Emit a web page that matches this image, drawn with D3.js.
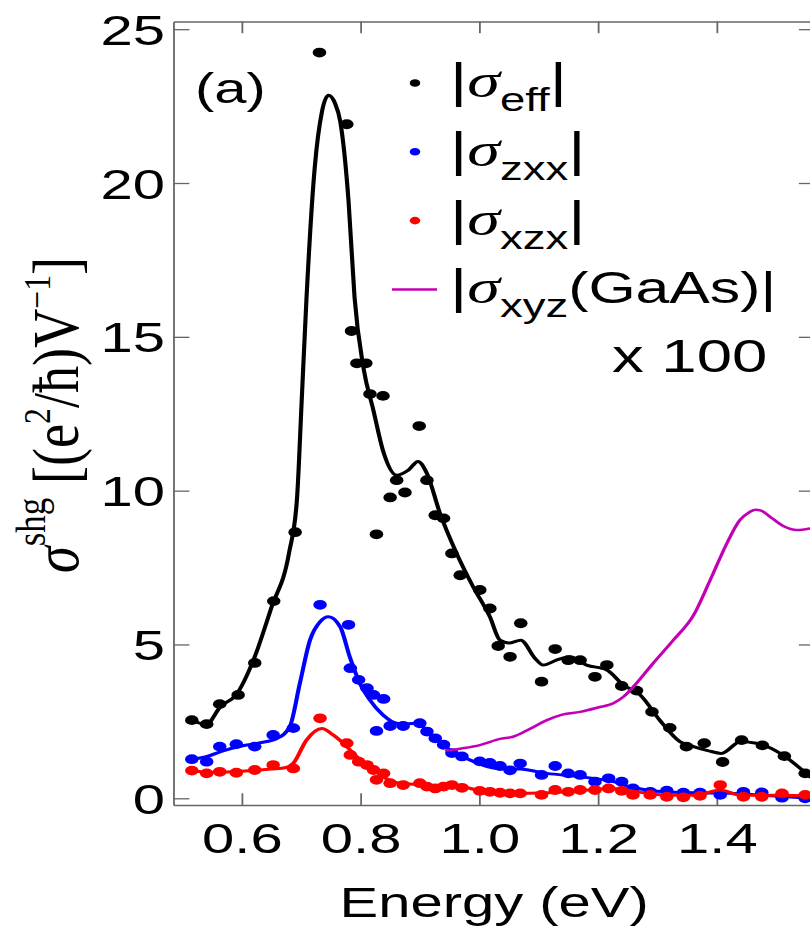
<!DOCTYPE html>
<html><head><meta charset="utf-8">
<script src="https://cdn.jsdelivr.net/npm/d3@7"></script>
<style>html,body{margin:0;padding:0;background:#fff;overflow:hidden}</style>
</head><body>
<svg id="chart"></svg>
<script>
// ---- data -------------------------------------------------------------
// measured |sigma_eff| (black dots)
const effX = [0.516,0.541,0.563,0.594,0.622,0.654,0.690,0.731,0.777,0.785,0.794,0.809,0.816,0.838,0.827,0.850,0.861,0.875,0.899,0.912,0.926,0.940,0.954,0.968,1.001,1.018,1.032,1.052,1.070,1.105,1.128,1.150,1.170,1.195,1.215,1.240,1.265,1.291,1.321,1.349,1.379,1.410,1.442,1.477,1.514,1.549];
const effY = [2.54,2.41,3.06,3.36,4.40,6.41,8.65,24.24,21.91,15.19,14.14,14.14,13.14,13.08,8.58,9.78,10.34,9.94,12.10,10.34,9.20,9.10,7.96,7.25,6.77,6.17,4.95,4.60,5.69,3.79,4.85,4.49,4.49,3.95,4.33,3.65,3.50,2.81,2.29,1.68,1.79,1.18,1.89,1.72,1.37,0.81];
// fitted |sigma_eff| (black line)
const effFitX = [0.510,0.540,0.565,0.590,0.620,0.650,0.680,0.693,0.701,0.709,0.723,0.735,0.746,0.757,0.766,0.780,0.790,0.805,0.822,0.838,0.861,0.881,0.897,0.912,0.934,0.962,0.990,1.018,1.035,1.050,1.070,1.094,1.108,1.130,1.153,1.181,1.215,1.243,1.271,1.304,1.338,1.361,1.385,1.408,1.440,1.467,1.507,1.557];
const effFitY = [2.6,2.4,3.0,3.35,4.5,6.2,8.0,9.7,12.9,16.2,20.5,22.3,22.85,22.6,22.0,19.4,16.3,14.0,12.6,11.3,10.5,10.67,10.95,10.56,9.26,7.96,6.87,5.9,5.14,5.05,5.14,4.55,4.33,4.49,4.6,4.33,4.17,3.68,3.36,2.54,1.84,1.68,1.55,1.46,1.84,1.79,1.46,0.70];

// |sigma_zxx| (blue)
const zxxX = [0.516,0.541,0.563,0.591,0.622,0.653,0.687,0.732,0.780,0.783,0.797,0.811,0.822,0.839,0.827,0.850,0.872,0.900,0.912,0.926,0.940,0.954,0.971,1.001,1.018,1.035,1.052,1.069,1.105,1.128,1.150,1.170,1.195,1.218,1.240,1.259,1.288,1.316,1.344,1.372,1.406,1.445,1.476,1.510,1.549];
const zxxY = [1.27,1.19,1.68,1.76,1.68,2.06,2.28,6.29,5.64,4.23,3.85,3.58,3.36,3.23,2.19,2.35,2.35,2.44,2.17,1.95,1.74,1.47,1.36,1.20,1.15,1.05,0.91,1.13,0.76,1.05,0.81,0.76,0.54,0.65,0.54,0.32,0.21,0.25,0.18,0.18,0.11,0.21,0.19,0.02,0.0];
const zxxFitX = [0.510,0.540,0.570,0.600,0.630,0.660,0.681,0.698,0.715,0.732,0.746,0.766,0.782,0.799,0.816,0.838,0.861,0.878,0.895,0.917,0.951,0.985,1.029,1.069,1.114,1.170,1.226,1.259,1.310,1.360,1.422,1.478,1.557];
const zxxFitY = [1.25,1.35,1.55,1.7,1.8,1.95,2.33,3.74,5.14,5.74,5.9,5.57,4.6,3.74,3.19,2.71,2.44,2.42,2.44,2.11,1.57,1.24,0.97,0.95,0.81,0.70,0.54,0.35,0.21,0.18,0.16,0.10,0.0];

// |sigma_xzx| (red)
const xzxX = [0.516,0.541,0.563,0.591,0.622,0.653,0.687,0.732,0.777,0.783,0.797,0.811,0.822,0.839,0.827,0.850,0.872,0.900,0.912,0.926,0.940,0.954,0.971,1.001,1.018,1.035,1.052,1.069,1.105,1.128,1.150,1.170,1.195,1.218,1.240,1.259,1.288,1.316,1.344,1.372,1.406,1.445,1.476,1.510,1.549];
const xzxY = [0.90,0.81,0.86,0.83,0.92,1.08,0.97,2.60,1.79,1.41,1.19,1.08,0.92,0.81,0.60,0.49,0.43,0.49,0.38,0.32,0.38,0.43,0.34,0.24,0.21,0.18,0.16,0.16,0.11,0.27,0.21,0.27,0.27,0.32,0.24,0.11,0.11,0.05,0.03,0.08,0.43,0.05,0.05,0.16,0.11];
const xzxFitX = [0.510,0.550,0.600,0.650,0.675,0.687,0.709,0.735,0.754,0.777,0.794,0.816,0.838,0.861,0.895,0.928,0.962,1.001,1.057,1.114,1.170,1.226,1.270,1.310,1.365,1.406,1.440,1.507,1.557];
const xzxFitY = [0.9,0.85,0.88,0.95,1.0,1.14,1.89,2.27,2.06,1.68,1.35,1.03,0.70,0.51,0.45,0.38,0.40,0.25,0.16,0.18,0.25,0.32,0.20,0.11,0.10,0.27,0.10,0.10,0.08];

// |sigma_xyz(GaAs)| x 100 (magenta line)
const gaasX = [0.945,0.970,1.001,1.035,1.057,1.085,1.114,1.140,1.170,1.200,1.226,1.243,1.265,1.293,1.327,1.361,1.389,1.417,1.439,1.455,1.465,1.475,1.490,1.512,1.535,1.557];
const gaasY = [1.55,1.62,1.73,1.93,2.0,2.25,2.54,2.72,2.81,2.95,3.09,3.3,3.74,4.39,5.14,5.95,7.09,8.28,9.04,9.3,9.38,9.35,9.15,8.85,8.72,8.77];

const xTicks = [0.6,0.8,1.0,1.2,1.4];
const xTickLabels = ["0.6","0.8","1.0","1.2","1.4"];
const yTicks = [0,5,10,15,20,25];
const yTickLabels = ["0","5","10","15","20","25"];

// ---- layout ------------------------------------------------------------
const W = 810, H = 930;
const SX = 1.38;              // horizontal stretch of the drawing
const VW = W / SX;
const sans = "'Liberation Sans', Arial, Helvetica, sans-serif";
const serif = "'Liberation Serif', 'Times New Roman', serif";
const axisColor = "#666";
const tick = 11.7;

const svg = d3.select('#chart')
  .attr('width', W).attr('height', H)
  .attr('viewBox', `0 0 ${VW} ${H}`)
  .attr('preserveAspectRatio', 'none');

const x = d3.scaleLinear().domain([0.4848, 1.5656]).range([173.3 / SX, 815 / SX]);
const y = d3.scaleLinear().domain([-0.218, 25.25]).range([805, 21.5]);

// ---- axes (ticks point inward on all four sides) ----------------------
function styleAxis(g) {
  g.select('.domain').attr('stroke', axisColor).attr('stroke-width', 1.3);
  g.selectAll('.tick line').attr('stroke', axisColor).attr('stroke-width', 1.3);
}
const gB = svg.append('g').attr('transform', `translate(0,${y.range()[0]})`)
  .call(d3.axisBottom(x).tickValues(xTicks).tickFormat((d, i) => xTickLabels[i]).tickSize(-tick).tickSizeOuter(0));
gB.call(styleAxis);
gB.selectAll('.tick text').attr('y', 48).attr('dy', null)
  .attr('font-family', sans).attr('font-size', 42).attr('fill', '#000');

const gT = svg.append('g').attr('transform', `translate(0,${y.range()[1]})`)
  .call(d3.axisTop(x).tickValues(xTicks).tickFormat('').tickSize(-tick).tickSizeOuter(0));
gT.call(styleAxis);

const gL = svg.append('g').attr('transform', `translate(${x.range()[0]},0)`)
  .call(d3.axisLeft(y).tickValues(yTicks).tickFormat((d, i) => yTickLabels[i]).tickSize(-tick).tickSizeOuter(0));
gL.call(styleAxis);
gL.selectAll('.tick text').attr('x', -6).attr('dy', '0.36em')
  .attr('font-family', sans).attr('font-size', 42).attr('fill', '#000');

const gR = svg.append('g').attr('transform', `translate(${x.range()[1]},0)`)
  .call(d3.axisRight(y).tickValues(yTicks).tickFormat('').tickSize(-tick).tickSizeOuter(0));
gR.call(styleAxis);

// axis titles
svg.append('text').attr('x', (x.range()[0] + x.range()[1]) / 2).attr('y', 917)
  .attr('text-anchor', 'middle').attr('font-family', sans).attr('font-size', 42)
  .text('Energy (eV)');

const yt = svg.append('text')
  .attr('transform', `translate(56.5,415) rotate(-90) scale(1.13,1)`)
  .attr('text-anchor', 'middle').attr('font-family', serif).attr('font-size', 48);
yt.append('tspan').attr('font-style', 'italic').text('σ');
yt.append('tspan').attr('font-size', 31).attr('dy', -24).text('shg');
yt.append('tspan').attr('dy', 24).text(' [(e');
yt.append('tspan').attr('font-size', 28).attr('dy', -20).text('2');
yt.append('tspan').attr('dy', 20).text('/ħ)V');
yt.append('tspan').attr('font-size', 28).attr('dy', -20).text('−1');
yt.append('tspan').attr('dy', 20).text(']');

// ---- data marks ---------------------------------------------------------
const plot = svg.append('g');
function fitLine(xs, ys, color, w) {
  const pts = xs.map((v, i) => [v, ys[i]]);
  plot.append('path').datum(pts)
    .attr('fill', 'none').attr('stroke', color).attr('stroke-width', w)
    .attr('stroke-linejoin', 'round').attr('stroke-linecap', 'round')
    .attr('d', d3.line().x(d => x(d[0])).y(d => y(d[1])).curve(d3.curveMonotoneX));
}
function dots(xs, ys, color) {
  const pts = xs.map((v, i) => [v, ys[i]]);
  plot.append('g').selectAll('circle').data(pts).join('circle')
    .attr('cx', d => x(d[0])).attr('cy', d => y(d[1])).attr('r', 4.9).attr('fill', color);
}
const cBlack = '#000', cBlue = '#0000ff', cRed = '#ff0000', cMag = '#c400b4';
dots(effX, effY, cBlack);
fitLine(effFitX, effFitY, cBlack, 3.0);
dots(zxxX, zxxY, cBlue);
fitLine(zxxFitX, zxxFitY, cBlue, 3.0);
dots(xzxX, xzxY, cRed);
fitLine(xzxFitX, xzxFitY, cRed, 3.0);
fitLine(gaasX, gaasY, cMag, 2.5);

// ---- panel label and legend ------------------------------------------
svg.append('text').attr('x', 195 / SX).attr('y', 103)
  .attr('font-family', sans).attr('font-size', 42).text('(a)');

const legendRows = [
  {sub: 'eff', color: cBlack, type: 'dot'},
  {sub: 'zxx', color: cBlue, type: 'dot'},
  {sub: 'xzx', color: cRed, type: 'dot'},
  {sub: 'xyz', color: cMag, type: 'line', tail: '(GaAs)'}
];
const lgX = 415 / SX, lgText = 450 / SX, lgTop = 83, lgStep = 68.8;
legendRows.forEach((r, i) => {
  const cy = lgTop + i * lgStep;
  if (r.type === 'dot') {
    svg.append('circle').attr('cx', lgX).attr('cy', cy).attr('r', 3.8).attr('fill', r.color);
  } else {
    svg.append('line').attr('x1', 392 / SX).attr('x2', 437 / SX).attr('y1', cy).attr('y2', cy)
      .attr('stroke', r.color).attr('stroke-width', 2.5);
  }
  const t = svg.append('text').attr('x', lgText).attr('y', cy + 14)
    .attr('font-family', sans).attr('font-size', 48);
  t.append('tspan').text('|');
  t.append('tspan').attr('font-family', serif).attr('font-style', 'italic').text('σ');
  t.append('tspan').attr('font-size', 33).attr('dy', 14).text(r.sub);
  if (r.tail) t.append('tspan').attr('font-size', 44).attr('dy', -14).text(r.tail + '|');
  else t.append('tspan').attr('dy', -14).text('|');
});
svg.append('text').attr('x', 612 / SX).attr('y', 372)
  .attr('font-family', sans).attr('font-size', 46).text('x 100');
</script>
</body></html>
